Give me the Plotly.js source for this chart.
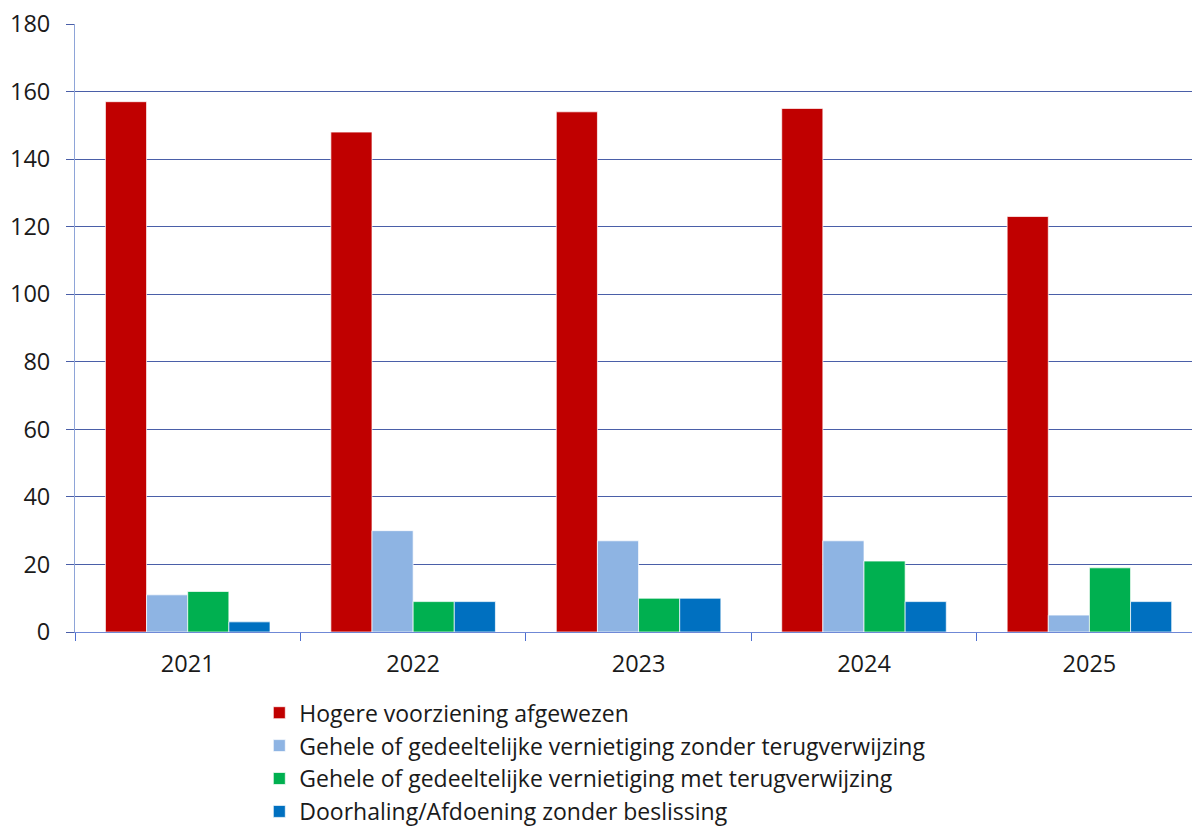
<!DOCTYPE html>
<html>
<head>
<meta charset="utf-8">
<script src="https://cdn.plot.ly/plotly-3.0.1.min.js"></script>
<style>html,body{margin:0;padding:0;background:#fff;}#chart{width:1192px;height:828px;}</style>
</head>
<body>
<div id="chart"></div>
<script>
const years = ["2021", "2022", "2023", "2024", "2025"];
const seriesNames = [
  "Hogere voorziening afgewezen",
  "Gehele of gedeeltelijke vernietiging zonder terugverwijzing",
  "Gehele of gedeeltelijke vernietiging met terugverwijzing",
  "Doorhaling/Afdoening zonder beslissing"
];
const afgewezen = [157, 148, 154, 155, 123];
const zonderTerug = [11, 30, 27, 27, 5];
const metTerug = [12, 9, 10, 21, 19];
const doorhaling = [3, 9, 10, 9, 9];
const colors = ["#C00000", "#8EB4E3", "#00B050", "#0070C0"];

const values = [afgewezen, zonderTerug, metTerug, doorhaling];
const traces = values.map((v, i) => ({
  type: "bar",
  name: seriesNames[i],
  x: years,
  y: v,
  marker: {color: colors[i], line: {color: "rgba(255,255,255,0.7)", width: 1}},
  hoverinfo: "x+y+name"
}));

const layout = {
  width: 1192, height: 828,
  margin: {l: 75, r: 0, t: 24, b: 196, autoexpand: false},
  paper_bgcolor: "#fff", plot_bgcolor: "#fff",
  font: {family: "Open Sans, Noto Sans, sans-serif", size: 23.5, color: "#1a1a1a"},
  barmode: "group",
  bargap: 0.27,
  bargroupgap: 0,
  showlegend: true,
  legend: {
    orientation: "v",
    x: 0.165, xanchor: "left",
    y: -0.331, yanchor: "bottom",
    font: {size: 23, color: "#1a1a1a"},
    tracegroupgap: 0,
    itemwidth: 30,
    bgcolor: "rgba(0,0,0,0)"
  },
  xaxis: {
    type: "category",
    range: [-0.5, 4.455],
    tickson: "boundaries",
    ticks: "outside", ticklen: 8, tickcolor: "#4F6FCF", tickwidth: 1,
    showgrid: false,
    showline: true, linecolor: "#6F88D6", linewidth: 1,
    ticklabelstandoff: 11,
    automargin: false,
    tickfont: {size: 23.5, color: "#1a1a1a"},
    fixedrange: true
  },
  yaxis: {
    range: [0, 180], dtick: 20, tick0: 0,
    showgrid: true, gridcolor: "#4A5FA8", gridwidth: 1,
    zeroline: false,
    showline: true, linecolor: "#8EA4D8", linewidth: 1,
    ticks: "outside", ticklen: 8, tickcolor: "#4A5FA8",
    ticklabelstandoff: 11,
    automargin: false,
    tickfont: {size: 23.5, color: "#1a1a1a"},
    fixedrange: true
  }
};

Plotly.newPlot("chart", traces, layout, {displayModeBar: false, staticPlot: true});
</script>
</body>
</html>
